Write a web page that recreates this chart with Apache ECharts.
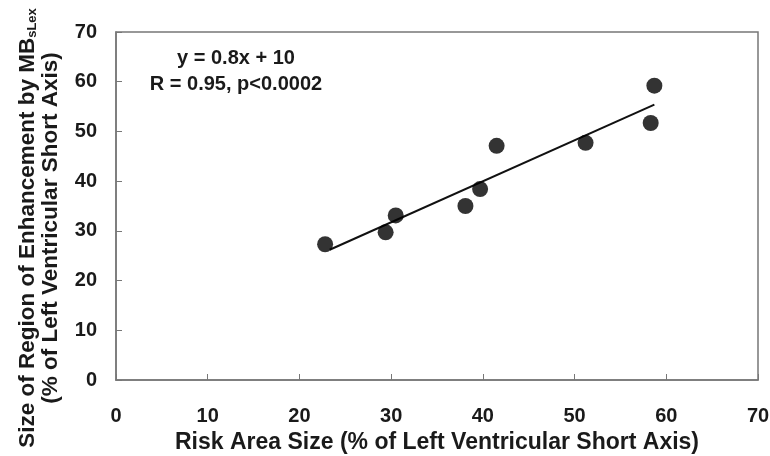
<!DOCTYPE html>
<html>
<head>
<meta charset="utf-8">
<script src="https://cdn.jsdelivr.net/npm/echarts@6/dist/echarts.min.js"></script>
<style>
  html, body { margin: 0; padding: 0; background: #fff; }
  #main { width: 770px; height: 456px; }
</style>
</head>
<body>
<div id="main"></div>
<script>
// risk area size (x) vs size of enhancement region (y)
const riskArea = [22.8, 29.4, 30.5, 38.1, 39.7, 41.5, 51.2, 58.3, 58.7];
const enhancement = [27.3, 29.7, 33.1, 35.0, 38.4, 47.1, 47.7, 51.7, 59.2];
// regression line end points as drawn
const fitX = [23.3, 58.7];
const fitY = [26.2, 55.4];

const font = 'Liberation Sans, Arial, sans-serif';
const ink = '#1a1a1a';

const chart = echarts.init(document.getElementById('main'));

const option = {
  animation: false,
  backgroundColor: '#fff',
  grid: {
    left: 116, right: 12, top: 32, bottom: 76,
    outerBoundsMode: 'none',
    show: true, borderColor: '#777', borderWidth: 1.5
  },
  xAxis: {
    type: 'value', min: 0, max: 70, interval: 10,
    name: 'Risk Area Size (% of Left Ventricular Short Axis)',
    nameLocation: 'middle', nameGap: 48,
    nameTextStyle: { fontFamily: font, fontWeight: 'bold', fontSize: 23, color: ink },
    axisLine: { lineStyle: { color: '#777', width: 1.5 } },
    axisTick: { inside: true, length: 6, lineStyle: { color: '#777' } },
    axisLabel: { margin: 26, fontFamily: font, fontWeight: 'bold', fontSize: 20, color: ink },
    splitLine: { show: false }
  },
  yAxis: {
    type: 'value', min: 0, max: 70, interval: 10,
    axisLine: { lineStyle: { color: '#777', width: 1.5 } },
    axisTick: { inside: true, length: 6, lineStyle: { color: '#777' } },
    axisLabel: { margin: 19, fontFamily: font, fontWeight: 'bold', fontSize: 20, color: ink },
    splitLine: { show: false }
  },
  graphic: [
    {
      type: 'text', x: 39, y: 228, rotation: Math.PI / 2,
      style: {
        text: '{n|Size of Region of Enhancement by MB}{sub|sLex}\n{n|(% of Left Ventricular Short Axis)}',
        align: 'center', verticalAlign: 'middle',
        fill: ink,
        rich: {
          n: { fontFamily: font, fontWeight: 'bold', fontSize: 22.5, fill: ink, lineHeight: 23 },
          sub: { fontFamily: font, fontWeight: 'bold', fontSize: 13, fill: ink, lineHeight: 23, verticalAlign: 'bottom', padding: [9, 0, 0, 0] }
        }
      }
    },
    {
      type: 'text', x: 236, y: 71,
      style: {
        text: 'y = 0.8x + 10\nR = 0.95, p<0.0002',
        font: 'bold 20px Liberation Sans, Arial, sans-serif',
        fill: ink, align: 'center', verticalAlign: 'middle', lineHeight: 26
      }
    }
  ],
  series: [
    {
      type: 'line',
      data: fitX.map((x, i) => [x, fitY[i]]),
      symbol: 'none',
      lineStyle: { color: '#111', width: 2 },
      z: 2
    },
    {
      type: 'scatter',
      data: riskArea.map((x, i) => [x, enhancement[i]]),
      symbol: 'circle', symbolSize: 16,
      itemStyle: { color: '#000' },
      z: 3
    }
  ]
};

chart.setOption(option);
</script>
</body>
</html>
